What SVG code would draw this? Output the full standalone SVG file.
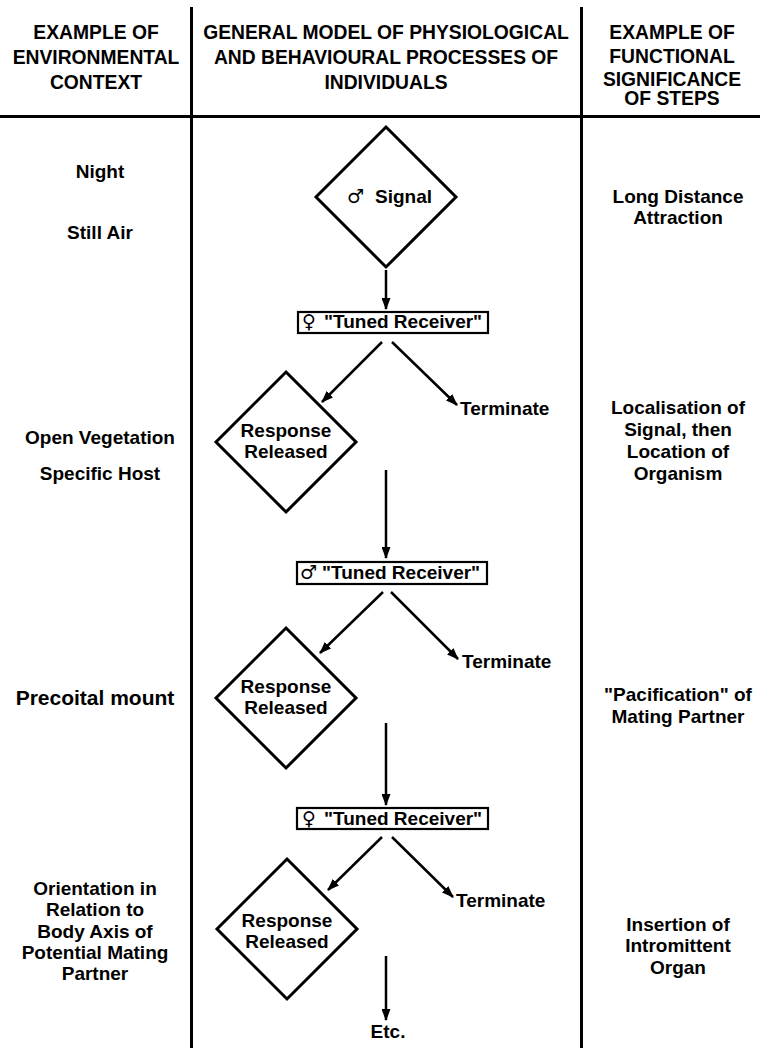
<svg xmlns="http://www.w3.org/2000/svg" width="760" height="1048" viewBox="0 0 760 1048">
  <defs>
    <style>
      text { font-family: "Liberation Sans", Arial, Helvetica, sans-serif; font-weight: bold; fill: #000; text-anchor: middle; font-size: 19px; }
      .head { font-size: 19.3px; }
      .big { font-size: 21px; }
      .start { text-anchor: start; }
      .sym { font-family: "DejaVu Sans", sans-serif; font-weight: bold; font-size: 19px; text-anchor: start; }
      .rule { stroke: #000; stroke-width: 3; fill: none; }
      .diamond { fill: #fff; stroke: #000; stroke-width: 3; }
      .box { fill: #fff; stroke: #000; stroke-width: 2.2; }
      .conn { stroke: #000; stroke-width: 2.5; fill: none; marker-end: url(#arrow); }
    </style>
    <marker id="arrow" viewBox="0 0 12 9" refX="11" refY="4.5" markerWidth="12" markerHeight="9" markerUnits="userSpaceOnUse" orient="auto">
      <path d="M0,0 L12,4.5 L0,9 Z" fill="#000"/>
    </marker>
  </defs>

  <rect width="760" height="1048" fill="#fff"/>

  <!-- table rules -->
  <g id="rules">
    <line class="rule" x1="191.5" y1="7" x2="191.5" y2="1048"/>
    <line class="rule" x1="581.5" y1="7" x2="581.5" y2="1048"/>
    <line class="rule" x1="0" y1="116.5" x2="760" y2="116.5"/>
  </g>

  <!-- column headings -->
  <g id="headings">
    <text class="head" x="96" y="39">EXAMPLE OF</text>
    <text class="head" x="96" y="64">ENVIRONMENTAL</text>
    <text class="head" x="96" y="89">CONTEXT</text>
    <text class="head" x="386" y="39">GENERAL MODEL OF PHYSIOLOGICAL</text>
    <text class="head" x="386" y="64">AND BEHAVIOURAL PROCESSES OF</text>
    <text class="head" x="386" y="89">INDIVIDUALS</text>
    <text class="head" x="672" y="39">EXAMPLE OF</text>
    <text class="head" x="672" y="63">FUNCTIONAL</text>
    <text class="head" x="672" y="86">SIGNIFICANCE</text>
    <text class="head" x="672" y="105">OF STEPS</text>
  </g>

  <!-- connectors -->
  <g id="connectors">
    <line class="conn" x1="386" y1="270" x2="386" y2="309"/>
    <line class="conn" x1="382" y1="342" x2="322" y2="402"/>
    <line class="conn" x1="392" y1="342" x2="457" y2="405"/>
    <line class="conn" x1="386" y1="470" x2="386" y2="558"/>
    <line class="conn" x1="383" y1="592" x2="320" y2="653"/>
    <line class="conn" x1="391" y1="592" x2="458" y2="659"/>
    <line class="conn" x1="386" y1="723" x2="386" y2="805"/>
    <line class="conn" x1="382" y1="837" x2="328" y2="890"/>
    <line class="conn" x1="392" y1="837" x2="453" y2="897"/>
    <line class="conn" x1="386" y1="956" x2="386" y2="1020"/>
  </g>

  <!-- flow nodes -->
  <g id="signal">
    <polygon class="diamond" points="386,127 456,197 386,267 316,197"/>
    <text class="sym" x="347" y="203">♂</text>
    <text class="start" x="375" y="203">Signal</text>
  </g>

  <g id="receiver1">
    <rect class="box" x="298" y="312" width="190" height="21"/>
    <text class="sym" x="302" y="328">♀</text>
    <text class="start" x="324" y="328">"Tuned Receiver"</text>
  </g>
  <g id="terminate1"><text class="start" x="460" y="415">Terminate</text></g>
  <g id="response1">
    <polygon class="diamond" points="286,372 356,442 286,512 216,442"/>
    <text x="286" y="437">Response</text>
    <text x="286" y="458">Released</text>
  </g>

  <g id="receiver2">
    <rect class="box" x="297" y="562" width="190" height="22"/>
    <text class="sym" x="300" y="579">♂</text>
    <text class="start" x="322" y="579">"Tuned Receiver"</text>
  </g>
  <g id="terminate2"><text class="start" x="462" y="668">Terminate</text></g>
  <g id="response2">
    <polygon class="diamond" points="286,628 356,698 286,768 216,698"/>
    <text x="286" y="693">Response</text>
    <text x="286" y="714">Released</text>
  </g>

  <g id="receiver3">
    <rect class="box" x="297" y="808" width="191" height="21"/>
    <text class="sym" x="302" y="825">♀</text>
    <text class="start" x="324" y="825">"Tuned Receiver"</text>
  </g>
  <g id="terminate3"><text class="start" x="456" y="907">Terminate</text></g>
  <g id="response3">
    <polygon class="diamond" points="287,859 357,929 287,999 217,929"/>
    <text x="287" y="927">Response</text>
    <text x="287" y="948">Released</text>
  </g>

  <g id="etc"><text x="388" y="1038">Etc.</text></g>

  <!-- environmental context column -->
  <g id="context">
    <text x="100" y="178">Night</text>
    <text x="100" y="239">Still Air</text>
    <text x="100" y="444">Open Vegetation</text>
    <text x="100" y="480">Specific Host</text>
    <text class="big" x="95" y="705">Precoital mount</text>
    <text x="95" y="895">Orientation in</text>
    <text x="95" y="916">Relation to</text>
    <text x="95" y="938">Body Axis of</text>
    <text x="95" y="959">Potential Mating</text>
    <text x="95" y="980">Partner</text>
  </g>

  <!-- functional significance column -->
  <g id="significance">
    <text x="678" y="203">Long Distance</text>
    <text x="678" y="224">Attraction</text>
    <text x="678" y="414">Localisation of</text>
    <text x="678" y="436">Signal, then</text>
    <text x="678" y="458">Location of</text>
    <text x="678" y="480">Organism</text>
    <text x="678" y="701">"Pacification" of</text>
    <text x="678" y="723">Mating Partner</text>
    <text x="678" y="931">Insertion of</text>
    <text x="678" y="952">Intromittent</text>
    <text x="678" y="974">Organ</text>
  </g>
</svg>
